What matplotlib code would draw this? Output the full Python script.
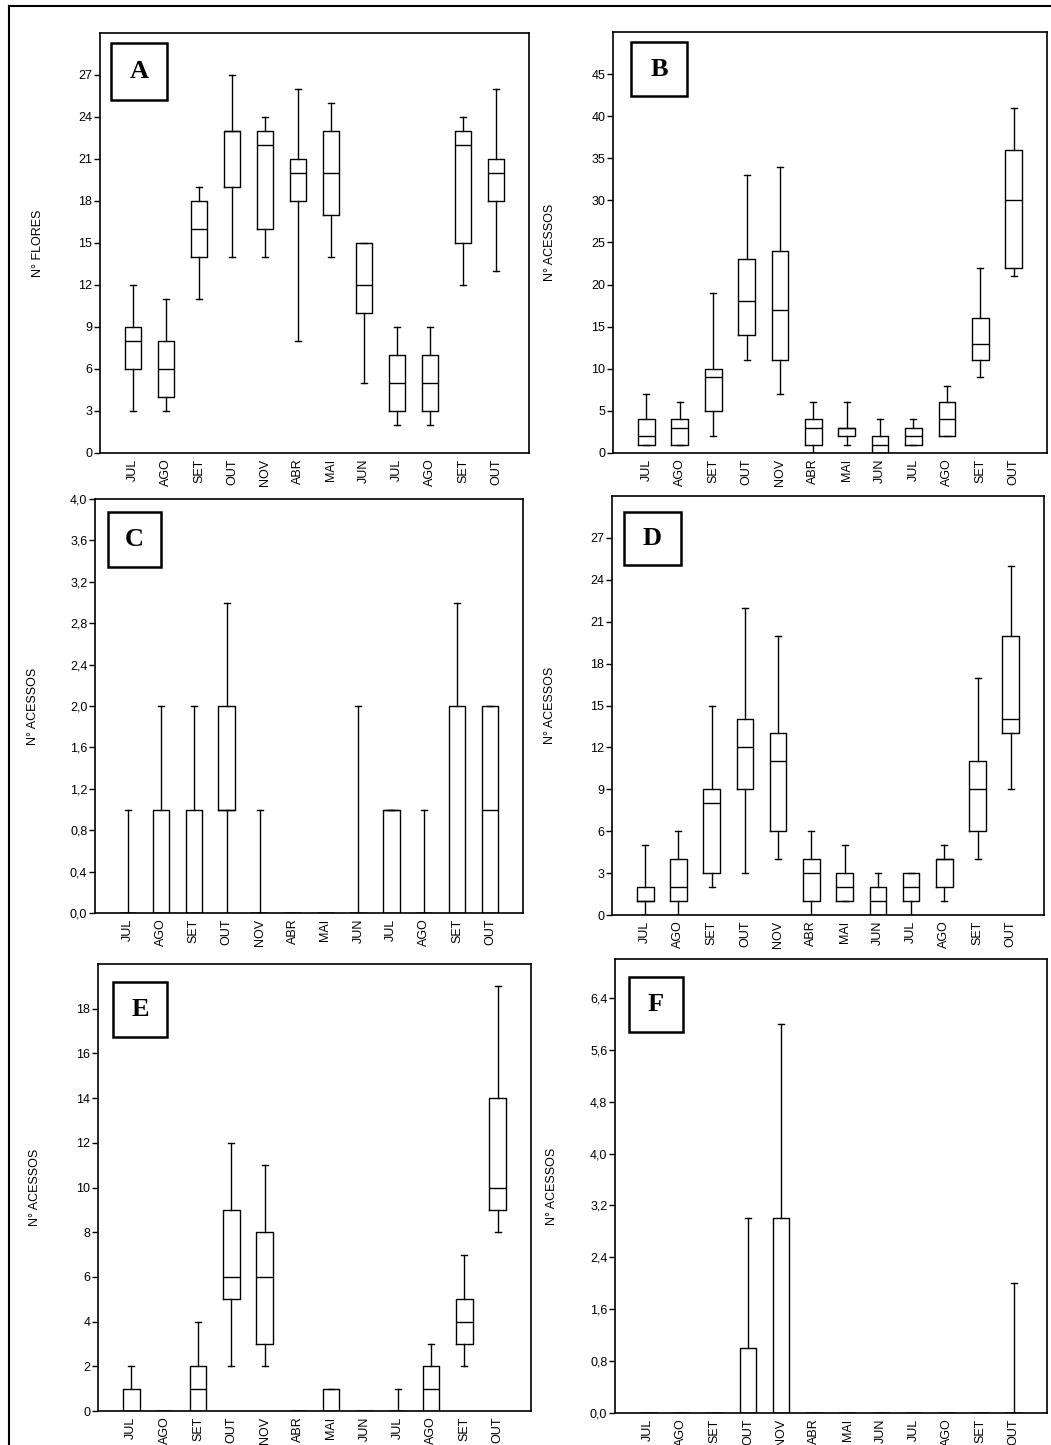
import matplotlib
matplotlib.use("Agg")
import matplotlib.pyplot as plt
from matplotlib.patches import Rectangle
from matplotlib.lines import Line2D
from matplotlib.ticker import FixedLocator, FuncFormatter

plt.rcParams['font.family'] = ['Liberation Sans', 'DejaVu Sans']

months = ['JUL', 'AGO', 'SET', 'OUT', 'NOV', 'ABR', 'MAI', 'JUN', 'JUL', 'AGO', 'SET', 'OUT']

# Panel A - N° FLORES
A_low = [3, 3, 11, 14, 14, 8, 14, 5, 2, 2, 12, 13]
A_q1 = [6, 4, 14, 19, 16, 18, 17, 10, 3, 3, 15, 18]
A_med = [8, 6, 16, 23, 22, 20, 20, 12, 5, 5, 22, 20]
A_q3 = [9, 8, 18, 23, 23, 21, 23, 15, 7, 7, 23, 21]
A_high = [12, 11, 19, 27, 24, 26, 25, 15, 9, 9, 24, 26]

# Panel B
B_low = [1, 1, 2, 11, 7, 0, 1, 0, 1, 2, 9, 21]
B_q1 = [1, 1, 5, 14, 11, 1, 2, 0, 1, 2, 11, 22]
B_med = [2, 3, 9, 18, 17, 3, 3, 1, 2, 4, 13, 30]
B_q3 = [4, 4, 10, 23, 24, 4, 3, 2, 3, 6, 16, 36]
B_high = [7, 6, 19, 33, 34, 6, 6, 4, 4, 8, 22, 41]

# Panel C
C_low = [0, 0, 0, 0, 0, 0, 0, 0, 0, 0, 0, 0]
C_q1 = [0, 0, 0, 1, 0, 0, 0, 0, 0, 0, 0, 0]
C_med = [0, 0, 0, 1, 0, 0, 0, 0, 1, 0, 0, 1]
C_q3 = [0, 1, 1, 2, 0, 0, 0, 0, 1, 0, 2, 2]
C_high = [1, 2, 2, 3, 1, 0, 0, 2, 1, 1, 3, 2]

# Panel D
D_low = [0, 0, 2, 3, 4, 0, 1, 0, 0, 1, 4, 9]
D_q1 = [1, 1, 3, 9, 6, 1, 1, 0, 1, 2, 6, 13]
D_med = [1, 2, 8, 12, 11, 3, 2, 1, 2, 4, 9, 14]
D_q3 = [2, 4, 9, 14, 13, 4, 3, 2, 3, 4, 11, 20]
D_high = [5, 6, 15, 22, 20, 6, 5, 3, 3, 5, 17, 25]

# Panel E
E_low = [0, 0, 0, 2, 2, 0, 0, 0, 0, 0, 2, 8]
E_q1 = [0, 0, 0, 5, 3, 0, 0, 0, 0, 0, 3, 9]
E_med = [0, 0, 1, 6, 6, 0, 0, 0, 0, 1, 4, 10]
E_q3 = [1, 0, 2, 9, 8, 0, 1, 0, 0, 2, 5, 14]
E_high = [2, 0, 4, 12, 11, 0, 1, 0, 1, 3, 7, 19]

# Panel F
F_low = [0, 0, 0, 0, 0, 0, 0, 0, 0, 0, 0, 0]
F_q1 = [0, 0, 0, 0, 0, 0, 0, 0, 0, 0, 0, 0]
F_med = [0, 0, 0, 0, 0, 0, 0, 0, 0, 0, 0, 0]
F_q3 = [0, 0, 0, 1, 3, 0, 0, 0, 0, 0, 0, 0]
F_high = [0, 0, 0, 3, 6, 0, 0, 0, 0, 0, 0, 2]

A_ticks = [0, 3, 6, 9, 12, 15, 18, 21, 24, 27]
B_ticks = [0, 5, 10, 15, 20, 25, 30, 35, 40, 45]
C_ticks = [0.0, 0.4, 0.8, 1.2, 1.6, 2.0, 2.4, 2.8, 3.2, 3.6, 4.0]
D_ticks = [0, 3, 6, 9, 12, 15, 18, 21, 24, 27]
E_ticks = [0, 2, 4, 6, 8, 10, 12, 14, 16, 18]
F_ticks = [0.0, 0.8, 1.6, 2.4, 3.2, 4.0, 4.8, 5.6, 6.4]

W, H = 1051, 1445
fig = plt.figure(figsize=(W / 100, H / 100), dpi=100)
fig.patch.set_facecolor('white')

# outer frame
fig.add_artist(Line2D([9 / W, 9 / W], [1 - 6 / H, 0], color='black', lw=1.5,
                      transform=fig.transFigure))
fig.add_artist(Line2D([9 / W, 1], [1 - 6 / H, 1 - 6 / H], color='black', lw=1.5,
                      transform=fig.transFigure))


def px_axes(l, t, r, b):
    return fig.add_axes([l / W, 1 - b / H, (r - l) / W, (b - t) / H])


def comma_fmt(v, pos):
    return ('%.1f' % v).replace('.', ',')


def int_fmt(v, pos):
    return '%d' % round(v)


def panel(rect, low, q1, med, q3, high, ticks, ymax, ylabel, letter, lbox,
          ylab_x, comma=False):
    ax = px_axes(*rect)
    stats = []
    for i in range(len(months)):
        stats.append(dict(whislo=low[i], q1=q1[i], med=med[i], q3=q3[i],
                          whishi=high[i], fliers=[]))
    lp = dict(color='black', linewidth=1.0)
    ax.bxp(stats, positions=list(range(1, 13)), widths=0.5, capwidths=0.18,
           showfliers=False, boxprops=lp, medianprops=lp, whiskerprops=lp,
           capprops=lp)
    ax.set_xlim(0, 13)
    ax.set_ylim(0, ymax)
    ax.set_xticks(list(range(1, 13)))
    ax.set_xticklabels(months, rotation=90, fontsize=9)
    ax.tick_params(axis='x', length=0, pad=4)
    ax.yaxis.set_major_locator(FixedLocator(ticks))
    ax.yaxis.set_major_formatter(FuncFormatter(comma_fmt if comma else int_fmt))
    ax.tick_params(axis='y', length=4, width=1.0, pad=1.5, labelsize=9,
                   direction='out')
    for s in ax.spines.values():
        s.set_linewidth(1.2)
        s.set_color('black')
    # y label
    cy = (rect[1] + rect[3]) / 2
    fig.text(ylab_x / W, 1 - cy / H, ylabel, rotation=90, ha='center',
             va='center', fontsize=9)
    # letter box
    l, t, r, b = lbox
    fig.add_artist(Rectangle((l / W, 1 - b / H), (r - l) / W, (b - t) / H,
                             transform=fig.transFigure, fill=True,
                             facecolor='white', edgecolor='black', lw=1.8,
                             zorder=5))
    fig.text((l + r) / 2 / W, 1 - (t + b) / 2 / H, letter,
             family=['Liberation Serif', 'DejaVu Serif'], fontweight='bold',
             fontsize=19, ha='center', va='center', zorder=6)
    return ax


panel((100, 33, 529, 453), A_low, A_q1, A_med, A_q3, A_high, A_ticks, 30,
      'N° FLORES', 'A', (111, 43, 167, 100), 38)
panel((613, 32, 1047, 453), B_low, B_q1, B_med, B_q3, B_high, B_ticks, 50,
      'N° ACESSOS', 'B', (631, 42, 687, 96), 550)
panel((95, 499, 523, 913), C_low, C_q1, C_med, C_q3, C_high, C_ticks, 4.0,
      'N° ACESSOS', 'C', (108, 512, 161, 567), 33, comma=True)
panel((612, 496, 1044, 915), D_low, D_q1, D_med, D_q3, D_high, D_ticks, 30,
      'N° ACESSOS', 'D', (624, 512, 681, 565), 550)
panel((98, 964, 531, 1411), E_low, E_q1, E_med, E_q3, E_high, E_ticks, 20,
      'N° ACESSOS', 'E', (113, 982, 167, 1037), 35)
panel((615, 959, 1047, 1413), F_low, F_q1, F_med, F_q3, F_high, F_ticks, 7.0,
      'N° ACESSOS', 'F', (629, 977, 683, 1032), 552, comma=True)

fig.savefig('out.png', dpi=100, facecolor='white')
